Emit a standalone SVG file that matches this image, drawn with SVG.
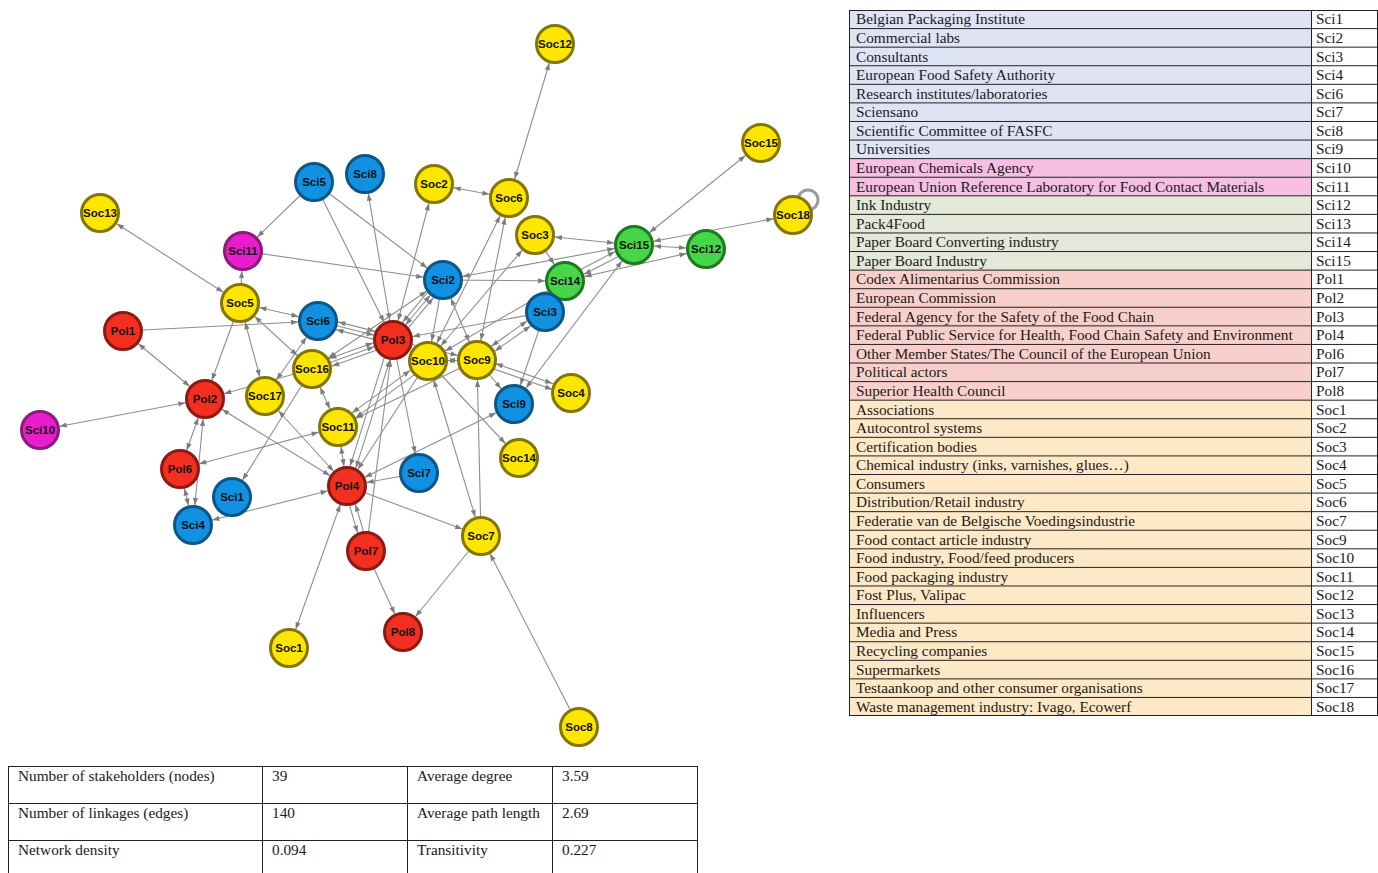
<svg xmlns="http://www.w3.org/2000/svg" width="1378" height="873" viewBox="0 0 1378 873">
<style>
.e{stroke:#8e8e8e;stroke-width:1.1;fill:none;marker-end:url(#ah)}
.b{stroke:#8e8e8e;stroke-width:1.1;fill:none;marker-end:url(#ah);marker-start:url(#ah)}
.n circle{stroke-width:3}
.soc circle{fill:#ffe600;stroke:#837600}
.sci circle{fill:#1191e2;stroke:#0e5587}
.pol circle{fill:#f3301f;stroke:#8c1a12}
.grn circle{fill:#46d648;stroke:#1c7a20}
.mag circle{fill:#ea1dcd;stroke:#8a1b7d}
.n text{font-family:"Liberation Sans",Arial,sans-serif;font-weight:bold;font-size:11.5px;text-anchor:middle;fill:#111}
.t{font-family:"Liberation Serif","Times New Roman",serif;font-size:15.3px;fill:#1a1a1a}
.grid{stroke:#222;stroke-width:1;fill:none}
</style>
<defs>
<marker id="ah" markerUnits="userSpaceOnUse" markerWidth="10" markerHeight="10" refX="20" refY="0" orient="auto-start-reverse" overflow="visible">
<path d="M0,0 L-7,-2.6 L-7,2.6 Z" fill="#7c7c7c"/>
</marker>
</defs>
<rect width="1378" height="873" fill="#fff"/>

<g id="connectors">
<line class="b" x1="555" y1="44" x2="509" y2="198"/>
<line class="b" x1="434" y1="184" x2="509" y2="198"/>
<line class="b" x1="761" y1="143" x2="634" y2="245"/>
<line class="b" x1="793" y1="215" x2="634" y2="245"/>
<line class="b" x1="634" y1="245" x2="706" y2="249"/>
<line class="b" x1="535" y1="235" x2="634" y2="245"/>
<line class="e" x1="563.6" y1="278.4" x2="632.6" y2="242.4"/>
<line class="e" x1="635.4" y1="247.6" x2="566.4" y2="283.6"/>
<line class="b" x1="565" y1="281" x2="706" y2="249"/>
<line class="b" x1="443" y1="280" x2="634" y2="245"/>
<line class="e" x1="443" y1="280" x2="565" y2="281"/>
<line class="e" x1="535" y1="235" x2="565" y2="281"/>
<line class="b" x1="428" y1="361" x2="535" y2="235"/>
<line class="e" x1="314" y1="182" x2="243" y2="251"/>
<line class="e" x1="240" y1="303" x2="243" y2="251"/>
<line class="e" x1="243" y1="251" x2="443" y2="280"/>
<line class="e" x1="314" y1="182" x2="443" y2="280"/>
<line class="e" x1="314" y1="182" x2="393" y2="340"/>
<line class="b" x1="365" y1="174" x2="393" y2="340"/>
<line class="b" x1="434" y1="184" x2="393" y2="340"/>
<line class="b" x1="509" y1="198" x2="428" y2="361"/>
<line class="b" x1="509" y1="198" x2="477" y2="360"/>
<line class="e" x1="440" y1="277.4" x2="390" y2="337.4"/>
<line class="b" x1="443" y1="280" x2="393" y2="340"/>
<line class="e" x1="396" y1="342.6" x2="446" y2="282.6"/>
<line class="e" x1="443" y1="280" x2="428" y2="361"/>
<line class="b" x1="443" y1="280" x2="477" y2="360"/>
<line class="e" x1="545" y1="312" x2="393" y2="340"/>
<line class="b" x1="543.3" y1="309.5" x2="475.3" y2="357.5"/>
<line class="b" x1="546.7" y1="314.5" x2="478.7" y2="362.5"/>
<line class="b" x1="565" y1="281" x2="428" y2="361"/>
<line class="e" x1="545" y1="312" x2="514" y2="404"/>
<line class="b" x1="634" y1="245" x2="514" y2="404"/>
<line class="b" x1="477" y1="357" x2="571" y2="390"/>
<line class="e" x1="477" y1="363" x2="571" y2="396"/>
<line class="e" x1="477" y1="360" x2="514" y2="404"/>
<line class="b" x1="428" y1="361" x2="477" y2="360"/>
<line class="e" x1="393" y1="340" x2="477" y2="360"/>
<line class="b" x1="426.2" y1="358.6" x2="336.2" y2="424.6"/>
<line class="e" x1="429.8" y1="363.4" x2="339.8" y2="429.4"/>
<line class="e" x1="477" y1="360" x2="338" y2="427"/>
<line class="e" x1="428" y1="361" x2="519" y2="458"/>
<line class="b" x1="428" y1="361" x2="481" y2="536"/>
<line class="e" x1="481" y1="536" x2="477" y2="360"/>
<line class="e" x1="428" y1="361" x2="347" y2="486"/>
<line class="e" x1="390.1" y1="339.1" x2="344.1" y2="485.1"/>
<line class="b" x1="395.9" y1="340.9" x2="349.9" y2="486.9"/>
<line class="e" x1="366" y1="551" x2="393" y2="340"/>
<line class="e" x1="393" y1="340" x2="419" y2="473"/>
<line class="e" x1="419" y1="473" x2="347" y2="486"/>
<line class="b" x1="347" y1="486" x2="514" y2="404"/>
<line class="e" x1="347" y1="486" x2="481" y2="536"/>
<line class="e" x1="344.1" y1="486.8" x2="363.1" y2="551.8"/>
<line class="e" x1="368.9" y1="550.2" x2="349.9" y2="485.2"/>
<line class="e" x1="366" y1="551" x2="403" y2="632"/>
<line class="e" x1="481" y1="536" x2="403" y2="632"/>
<line class="e" x1="579" y1="727" x2="481" y2="536"/>
<line class="b" x1="347" y1="486" x2="289" y2="648"/>
<line class="b" x1="338" y1="427" x2="347" y2="486"/>
<line class="b" x1="180" y1="469" x2="338" y2="427"/>
<line class="b" x1="312" y1="369" x2="338" y2="427"/>
<line class="b" x1="310.6" y1="365.2" x2="391.6" y2="336.2"/>
<line class="e" x1="312" y1="369" x2="393" y2="340"/>
<line class="e" x1="394.4" y1="343.8" x2="313.4" y2="372.8"/>
<line class="b" x1="319" y1="317.1" x2="394" y2="336.1"/>
<line class="e" x1="318" y1="321" x2="393" y2="340"/>
<line class="e" x1="392" y1="343.9" x2="317" y2="324.9"/>
<line class="b" x1="312" y1="369" x2="443" y2="280"/>
<line class="e" x1="312" y1="369" x2="232" y2="497"/>
<line class="b" x1="318" y1="321" x2="265" y2="396"/>
<line class="b" x1="240" y1="303" x2="318" y2="321"/>
<line class="e" x1="123" y1="331" x2="318" y2="321"/>
<line class="b" x1="240" y1="303" x2="312" y2="369"/>
<line class="b" x1="240" y1="303" x2="265" y2="396"/>
<line class="e" x1="240" y1="303" x2="205" y2="399"/>
<line class="b" x1="100" y1="213" x2="240" y2="303"/>
<line class="b" x1="123" y1="331" x2="205" y2="399"/>
<line class="b" x1="40" y1="430" x2="205" y2="399"/>
<line class="e" x1="312" y1="369" x2="205" y2="399"/>
<line class="b" x1="205" y1="399" x2="180" y2="469"/>
<line class="b" x1="205" y1="399" x2="193" y2="525"/>
<line class="b" x1="180" y1="469" x2="193" y2="525"/>
<line class="b" x1="205" y1="399" x2="347" y2="486"/>
<line class="b" x1="265" y1="396" x2="347" y2="486"/>
<line class="b" x1="347" y1="486" x2="193" y2="525"/>
<circle cx="808" cy="200" r="10" fill="none" stroke="#9a9a9a" stroke-width="3"/>
</g>

<g id="nodes">
<g id="Soc12" class="n soc"><circle cx="555" cy="44" r="18.5"/><text x="555" y="48">Soc12</text></g>
<g id="Soc15" class="n soc"><circle cx="761" cy="143" r="18.5"/><text x="761" y="147">Soc15</text></g>
<g id="Soc18" class="n soc"><circle cx="793" cy="215" r="18.5"/><text x="793" y="219">Soc18</text></g>
<g id="Sci5" class="n sci"><circle cx="314" cy="182" r="18.5"/><text x="314" y="186">Sci5</text></g>
<g id="Sci8" class="n sci"><circle cx="365" cy="174" r="18.5"/><text x="365" y="178">Sci8</text></g>
<g id="Soc2" class="n soc"><circle cx="434" cy="184" r="18.5"/><text x="434" y="188">Soc2</text></g>
<g id="Soc6" class="n soc"><circle cx="509" cy="198" r="18.5"/><text x="509" y="202">Soc6</text></g>
<g id="Soc13" class="n soc"><circle cx="100" cy="213" r="18.5"/><text x="100" y="217">Soc13</text></g>
<g id="Soc3" class="n soc"><circle cx="535" cy="235" r="18.5"/><text x="535" y="239">Soc3</text></g>
<g id="Sci15" class="n grn"><circle cx="634" cy="245" r="18.5"/><text x="634" y="249">Sci15</text></g>
<g id="Sci12" class="n grn"><circle cx="706" cy="249" r="18.5"/><text x="706" y="253">Sci12</text></g>
<g id="Sci11" class="n mag"><circle cx="243" cy="251" r="18.5"/><text x="243" y="255">Sci11</text></g>
<g id="Sci2" class="n sci"><circle cx="443" cy="280" r="18.5"/><text x="443" y="284">Sci2</text></g>
<g id="Sci14" class="n grn"><circle cx="565" cy="281" r="18.5"/><text x="565" y="285">Sci14</text></g>
<g id="Soc5" class="n soc"><circle cx="240" cy="303" r="18.5"/><text x="240" y="307">Soc5</text></g>
<g id="Sci3" class="n sci"><circle cx="545" cy="312" r="18.5"/><text x="545" y="316">Sci3</text></g>
<g id="Sci6" class="n sci"><circle cx="318" cy="321" r="18.5"/><text x="318" y="325">Sci6</text></g>
<g id="Pol1" class="n pol"><circle cx="123" cy="331" r="18.5"/><text x="123" y="335">Pol1</text></g>
<g id="Pol3" class="n pol"><circle cx="393" cy="340" r="18.5"/><text x="393" y="344">Pol3</text></g>
<g id="Soc10" class="n soc"><circle cx="428" cy="361" r="18.5"/><text x="428" y="365">Soc10</text></g>
<g id="Soc9" class="n soc"><circle cx="477" cy="360" r="18.5"/><text x="477" y="364">Soc9</text></g>
<g id="Soc16" class="n soc"><circle cx="312" cy="369" r="18.5"/><text x="312" y="373">Soc16</text></g>
<g id="Soc4" class="n soc"><circle cx="571" cy="393" r="18.5"/><text x="571" y="397">Soc4</text></g>
<g id="Pol2" class="n pol"><circle cx="205" cy="399" r="18.5"/><text x="205" y="403">Pol2</text></g>
<g id="Soc17" class="n soc"><circle cx="265" cy="396" r="18.5"/><text x="265" y="400">Soc17</text></g>
<g id="Sci9" class="n sci"><circle cx="514" cy="404" r="18.5"/><text x="514" y="408">Sci9</text></g>
<g id="Sci10" class="n mag"><circle cx="40" cy="430" r="18.5"/><text x="40" y="434">Sci10</text></g>
<g id="Soc11" class="n soc"><circle cx="338" cy="427" r="18.5"/><text x="338" y="431">Soc11</text></g>
<g id="Soc14" class="n soc"><circle cx="519" cy="458" r="18.5"/><text x="519" y="462">Soc14</text></g>
<g id="Pol6" class="n pol"><circle cx="180" cy="469" r="18.5"/><text x="180" y="473">Pol6</text></g>
<g id="Sci7" class="n sci"><circle cx="419" cy="473" r="18.5"/><text x="419" y="477">Sci7</text></g>
<g id="Pol4" class="n pol"><circle cx="347" cy="486" r="18.5"/><text x="347" y="490">Pol4</text></g>
<g id="Sci1" class="n sci"><circle cx="232" cy="497" r="18.5"/><text x="232" y="501">Sci1</text></g>
<g id="Sci4" class="n sci"><circle cx="193" cy="525" r="18.5"/><text x="193" y="529">Sci4</text></g>
<g id="Soc7" class="n soc"><circle cx="481" cy="536" r="18.5"/><text x="481" y="540">Soc7</text></g>
<g id="Pol7" class="n pol"><circle cx="366" cy="551" r="18.5"/><text x="366" y="555">Pol7</text></g>
<g id="Pol8" class="n pol"><circle cx="403" cy="632" r="18.5"/><text x="403" y="636">Pol8</text></g>
<g id="Soc1" class="n soc"><circle cx="289" cy="648" r="18.5"/><text x="289" y="652">Soc1</text></g>
<g id="Soc8" class="n soc"><circle cx="579" cy="727" r="18.5"/><text x="579" y="731">Soc8</text></g>
</g>

<g id="legend-table">
<rect x="849" y="10" width="462" height="148.64" fill="#dee4f4"/>
<rect x="849" y="158.64" width="462" height="37.16" fill="#f6bfe3"/>
<rect x="849" y="195.8" width="462" height="74.32" fill="#e3e8d9"/>
<rect x="849" y="270.12" width="462" height="130.06" fill="#f9cfcb"/>
<rect x="849" y="400.18" width="462" height="315.86" fill="#fde9c6"/>
<path class="grid" d="M849,10.5H1378M849,28.58H1378M849,47.16H1378M849,65.74H1378M849,84.32H1378M849,102.9H1378M849,121.48H1378M849,140.06H1378M849,158.64H1378M849,177.22H1378M849,195.8H1378M849,214.38H1378M849,232.96H1378M849,251.54H1378M849,270.12H1378M849,288.7H1378M849,307.28H1378M849,325.86H1378M849,344.44H1378M849,363.02H1378M849,381.6H1378M849,400.18H1378M849,418.76H1378M849,437.34H1378M849,455.92H1378M849,474.5H1378M849,493.08H1378M849,511.66H1378M849,530.24H1378M849,548.82H1378M849,567.4H1378M849,585.98H1378M849,604.56H1378M849,623.14H1378M849,641.72H1378M849,660.3H1378M849,678.88H1378M849,697.46H1378M849,715.5H1378M849.5,10V716M1311.5,10V716M1377.5,10V716"/>
<g class="t">
<text x="856" y="24.3">Belgian Packaging Institute</text><text x="1316" y="24.3">Sci1</text>
<text x="856" y="42.9">Commercial labs</text><text x="1316" y="42.9">Sci2</text>
<text x="856" y="61.5">Consultants</text><text x="1316" y="61.5">Sci3</text>
<text x="856" y="80.1">European Food Safety Authority</text><text x="1316" y="80.1">Sci4</text>
<text x="856" y="98.6">Research institutes/laboratories</text><text x="1316" y="98.6">Sci6</text>
<text x="856" y="117.2">Sciensano</text><text x="1316" y="117.2">Sci7</text>
<text x="856" y="135.8">Scientific Committee of FASFC</text><text x="1316" y="135.8">Sci8</text>
<text x="856" y="154.4">Universities</text><text x="1316" y="154.4">Sci9</text>
<text x="856" y="172.9">European Chemicals Agency</text><text x="1316" y="172.9">Sci10</text>
<text x="856" y="191.5">European Union Reference Laboratory for Food Contact Materials</text><text x="1316" y="191.5">Sci11</text>
<text x="856" y="210.1">Ink Industry</text><text x="1316" y="210.1">Sci12</text>
<text x="856" y="228.7">Pack4Food</text><text x="1316" y="228.7">Sci13</text>
<text x="856" y="247.3">Paper Board Converting industry</text><text x="1316" y="247.3">Sci14</text>
<text x="856" y="265.8">Paper Board Industry</text><text x="1316" y="265.8">Sci15</text>
<text x="856" y="284.4">Codex Alimentarius Commission</text><text x="1316" y="284.4">Pol1</text>
<text x="856" y="303">European Commission</text><text x="1316" y="303">Pol2</text>
<text x="856" y="321.6">Federal Agency for the Safety of the Food Chain</text><text x="1316" y="321.6">Pol3</text>
<text x="856" y="340.2">Federal Public Service for Health, Food Chain Safety and Environment</text><text x="1316" y="340.2">Pol4</text>
<text x="856" y="358.7">Other Member States/The Council of the European Union</text><text x="1316" y="358.7">Pol6</text>
<text x="856" y="377.3">Political actors</text><text x="1316" y="377.3">Pol7</text>
<text x="856" y="395.9">Superior Health Council</text><text x="1316" y="395.9">Pol8</text>
<text x="856" y="414.5">Associations</text><text x="1316" y="414.5">Soc1</text>
<text x="856" y="433.1">Autocontrol systems</text><text x="1316" y="433.1">Soc2</text>
<text x="856" y="451.6">Certification bodies</text><text x="1316" y="451.6">Soc3</text>
<text x="856" y="470.2">Chemical industry (inks, varnishes, glues…)</text><text x="1316" y="470.2">Soc4</text>
<text x="856" y="488.8">Consumers</text><text x="1316" y="488.8">Soc5</text>
<text x="856" y="507.4">Distribution/Retail industry</text><text x="1316" y="507.4">Soc6</text>
<text x="856" y="526">Federatie van de Belgische Voedingsindustrie</text><text x="1316" y="526">Soc7</text>
<text x="856" y="544.5">Food contact article industry</text><text x="1316" y="544.5">Soc9</text>
<text x="856" y="563.1">Food industry, Food/feed producers</text><text x="1316" y="563.1">Soc10</text>
<text x="856" y="581.7">Food packaging industry</text><text x="1316" y="581.7">Soc11</text>
<text x="856" y="600.3">Fost Plus, Valipac</text><text x="1316" y="600.3">Soc12</text>
<text x="856" y="618.9">Influencers</text><text x="1316" y="618.9">Soc13</text>
<text x="856" y="637.4">Media and Press</text><text x="1316" y="637.4">Soc14</text>
<text x="856" y="656">Recycling companies</text><text x="1316" y="656">Soc15</text>
<text x="856" y="674.6">Supermarkets</text><text x="1316" y="674.6">Soc16</text>
<text x="856" y="693.2">Testaankoop and other consumer organisations</text><text x="1316" y="693.2">Soc17</text>
<text x="856" y="711.8">Waste management industry: Ivago, Ecowerf</text><text x="1316" y="711.8">Soc18</text>
</g>
</g>

<g id="stats-table">
<path class="grid" d="M8,766.5H698M8,803.5H698M8,840.5H698M8.5,766V874M262.5,766V874M407.5,766V874M552.5,766V874M697.5,766V874"/>
<g class="t">
<text x="18" y="781">Number of stakeholders (nodes)</text><text x="272" y="781">39</text><text x="417" y="781">Average degree</text><text x="562" y="781">3.59</text>
<text x="18" y="818">Number of linkages (edges)</text><text x="272" y="818">140</text><text x="417" y="818">Average path length</text><text x="562" y="818">2.69</text>
<text x="18" y="855">Network density</text><text x="272" y="855">0.094</text><text x="417" y="855">Transitivity</text><text x="562" y="855">0.227</text>
</g>
</g>
</svg>
